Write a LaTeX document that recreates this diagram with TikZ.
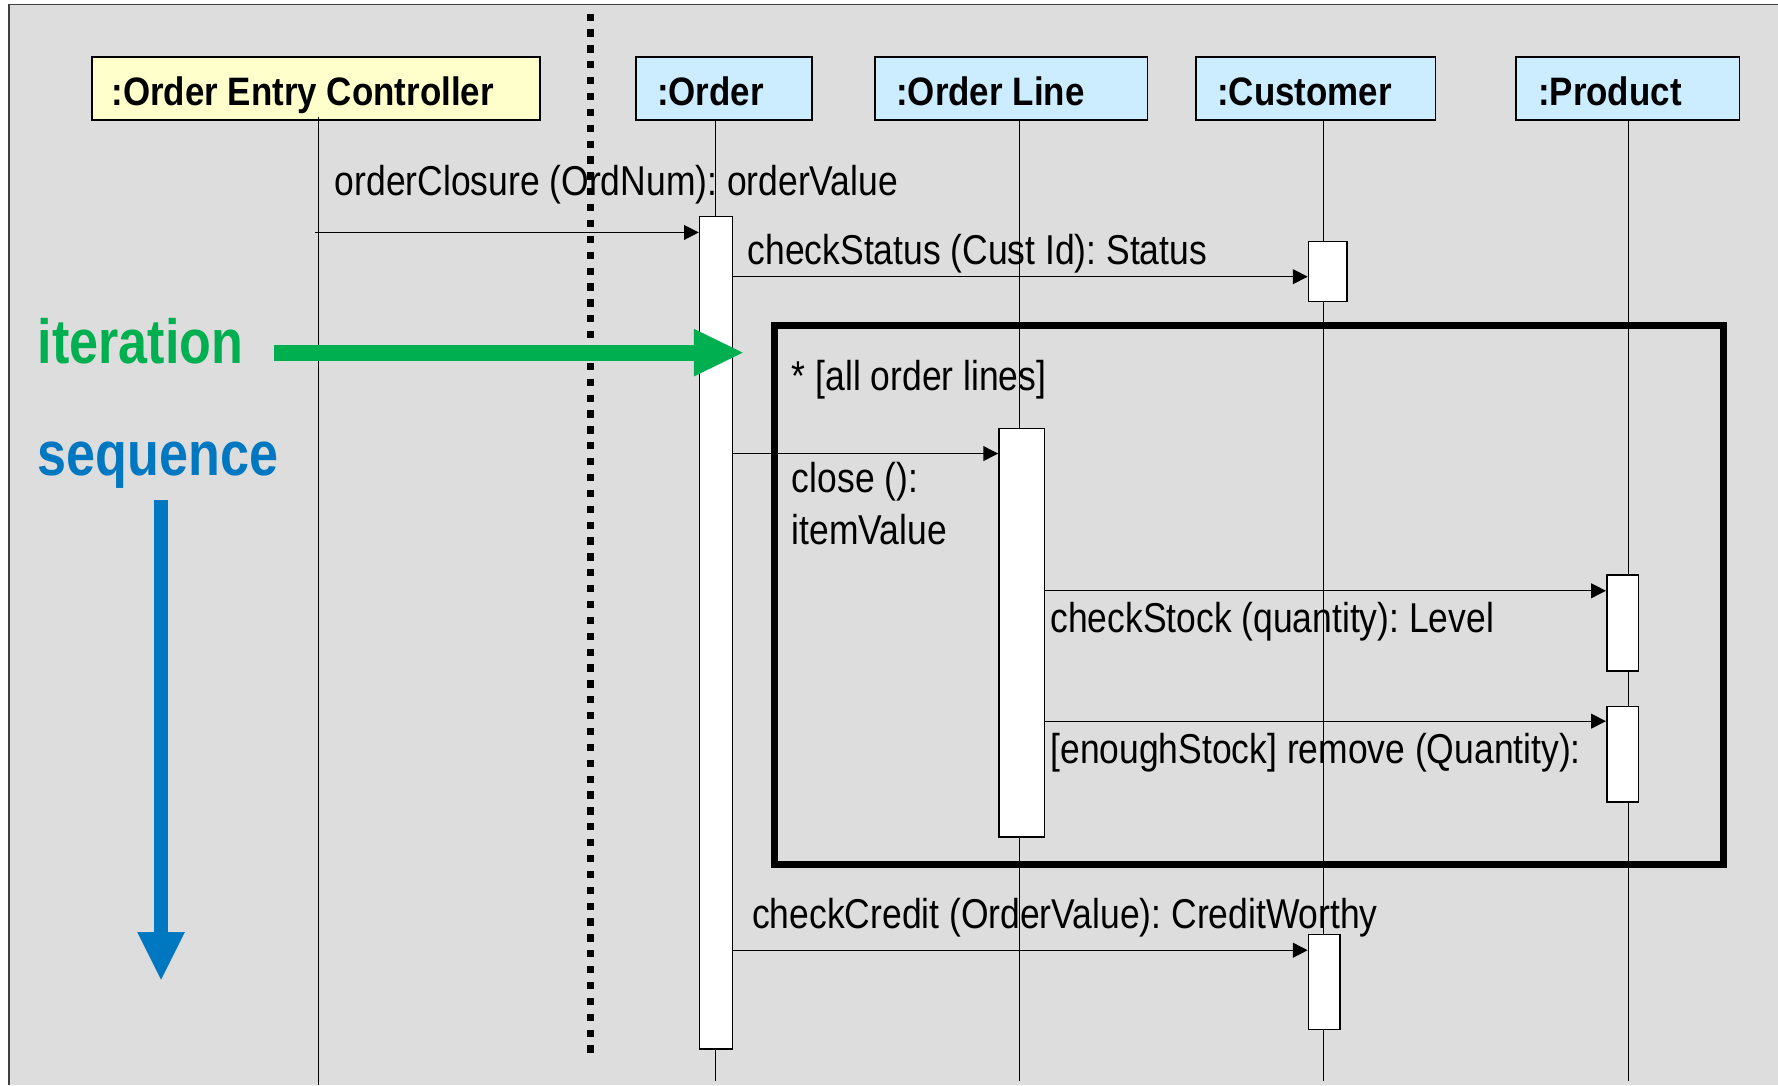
\documentclass[tikz,border=0pt]{standalone}
\usepackage{fontspec}
\setmainfont{Liberation Sans}
\newfontfamily\hdfont[FakeStretch=0.88]{Liberation Sans}
\newfontfamily\msgfont[FakeStretch=0.85]{Liberation Sans}
\newfontfamily\bigfont[FakeStretch=0.835]{Liberation Sans}
\usetikzlibrary{arrows.meta,fit}
\frenchspacing

\definecolor{panel}{HTML}{DDDDDD}
\definecolor{ctrlfill}{HTML}{FFFFCC}
\definecolor{objfill}{HTML}{CCECFF}
\definecolor{itergreen}{HTML}{00B050}
\definecolor{seqblue}{HTML}{0078C1}

\tikzset{
  header/.style={draw=black, line width=0.8pt, inner sep=0pt},
  htext/.style={anchor=base west, inner sep=0pt, font=\hdfont\fontsize{17.5}{20}\selectfont\bfseries},
  life/.style={draw=black, line width=0.5pt},
  actbar/.style={draw=black, fill=white, line width=0.75pt, inner sep=0pt},
  msg/.style={draw=black, line width=0.6pt, -{Triangle[length=6.5pt,width=6.5pt]}},
  mtext/.style={anchor=base west, inner sep=0pt, font=\msgfont\fontsize{18.4}{21}\selectfont},
  loopframe/.style={draw=black, line width=3.1pt},
  bigword/.style={anchor=base west, inner sep=0pt, font=\bigfont\fontsize{27.5}{30}\selectfont\bfseries},
  divider/.style={draw=black, line width=3pt, dash pattern=on 3.2pt off 3.8pt}
}

\begin{document}
\begin{tikzpicture}[x=0.5pt,y=-0.5pt]
\useasboundingbox (0,0) rectangle (1568,957);
\fill[white] (0,0) rectangle (1568,957);
\fill[panel] (8,4) rectangle (1568,957);
\draw[black!75, line width=0.8pt] (8,957) -- (8,4) -- (1568,4);

% object headers
\node[header, fill=ctrlfill, fit={(81,50) (476,106)}] (hCtrl) {};
\node[header, fill=objfill, fit={(561,50) (716,106)}] (hOrder) {};
\node[header, fill=objfill, fit={(772,50) (1012,106)}] (hLine) {};
\node[header, fill=objfill, fit={(1055,50) (1266,106)}] (hCust) {};
\node[header, fill=objfill, fit={(1337,50) (1534,106)}] (hProd) {};
\node[htext] (tCtrl) at (98,93) {:Order Entry Controller};
\node[htext] (tOrder) at (579,93) {:Order};
\node[htext] (tLine) at (790,93) {:Order Line};
\node[htext] (tCust) at (1073,93) {:Customer};
\node[htext] (tProd) at (1356,93) {:Product};

% lifelines
\coordinate (xCtrl) at (281,0);
\coordinate (xOrder) at (631,0);
\coordinate (xLine) at (899,0);
\coordinate (xCust) at (1167,0);
\coordinate (xProd) at (1436,0);
\coordinate (bottom) at (0,953);
\draw[life] (xCtrl |- 0,103) -- (xCtrl |- 0,957);
\draw[life] (xOrder |- hOrder.south) -- (xOrder |- bottom);
\draw[life] (xLine |- hLine.south) -- (xLine |- bottom);
\draw[life] (xCust |- hCust.south) -- (xCust |- bottom);
\draw[life] (xProd |- hProd.south) -- (xProd |- bottom);

% loop fragment
\node[loopframe, inner sep=0pt, fit={(683,287) (1520,762)}] (loop) {};
\node[mtext] (guard) at (698,344) {* [all order lines]};

% activation bars
\node[actbar, fit={(617,191) (646,925)}] (aOrder) {};
\node[actbar, fit={(1154,213) (1188,266)}] (aCust1) {};
\node[actbar, fit={(881,378) (921,738)}] (aLine) {};
\node[actbar, fit={(1417,507) (1445,592)}] (aProd1) {};
\node[actbar, fit={(1417,623) (1445,707)}] (aProd2) {};
\node[actbar, fit={(1154,824) (1182,908)}] (aCust2) {};

% messages
\coordinate (m1) at (278,205);
\draw[msg] (m1) -- (m1 -| aOrder.west);
\node[mtext] (t1) at (295,172) {orderClosure (OrdNum): orderValue};

\coordinate (m2) at (646,244);
\draw[msg] (m2) -- (m2 -| aCust1.west);
\node[mtext] (t2) at (659,233) {checkStatus (Cust Id): Status};

\coordinate (m3) at (646,400);
\draw[msg] (m3) -- (m3 -| aLine.west);
\node[mtext] (t3a) at (698,434) {close ():};
\node[mtext] (t3b) at (698,480) {itemValue};

\coordinate (m4) at (921,521);
\draw[msg] (m4) -- (m4 -| aProd1.west);
\node[mtext] (t4) at (926,558) {checkStock (quantity): Level};

\coordinate (m5) at (921,636);
\draw[msg] (m5) -- (m5 -| aProd2.west);
\node[mtext] (t5) at (926,673) {[enoughStock] remove (Quantity):};

\coordinate (m6) at (646,838);
\draw[msg] (m6) -- (m6 -| aCust2.west);
\node[mtext] (t6) at (663,819) {checkCredit (OrderValue): CreditWorthy};

% boundary between controller and entities
\coordinate (dTop) at (521,12);
\coordinate (dBot) at (521,935);
\draw[divider] (dTop) -- (dBot);

% annotations
\node[bigword, text=itergreen] (wIter) at (33,321) {iteration};
\node[bigword, text=seqblue] (wSeq) at (33,419) {sequence};
\fill[itergreen] (242,304) rectangle (614,318);
\fill[itergreen] (612,290) -- (655,311) -- (612,332) -- cycle;
\fill[seqblue] (136,441) rectangle (148,826);
\fill[seqblue] (121,822) -- (163,822) -- (142,864) -- cycle;
\end{tikzpicture}
\end{document}
